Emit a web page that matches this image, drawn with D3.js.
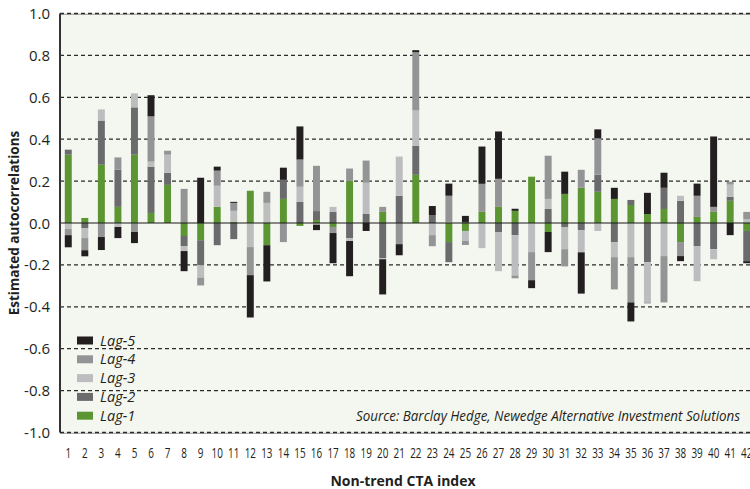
<!DOCTYPE html>
<html>
<head>
<meta charset="utf-8">
<script src="https://cdn.jsdelivr.net/npm/d3@7"></script>
<style>
  body { margin: 0; background: #fff; }
  svg { display: block; font-family: "Open Sans", "Noto Sans", sans-serif; }
</style>
</head>
<body>
<div id="chart"></div>
<script>
// categories (non-trend CTA indices)
var categories = ["1","2","3","4","5","6","7","8","9","10","11","12","13","14","15","16","17","18","19","20","21",
  "22","23","24","25","26","27","28","29","30","31","32","33","34","35","36","37","38","39","40","41","42"];

// autocorrelation per lag
var lag1 = [0.326,0.024,0.278,0.077,0.326,0.048,0.182,-0.062,-0.082,0.077,0.005,0.154,-0.106,0.115,-0.014,0.014,-0.019,0.202,0,0.053,0,
  0.23,0,-0.091,-0.038,0.053,0.077,0.058,0.221,-0.043,0.139,0.168,0.149,0.115,0.086,0.043,0.067,-0.091,0.029,0.053,0.106,-0.038];
var lag2 = [0.024,-0.024,0.211,0.178,0.226,0.221,0.058,-0.048,-0.12,-0.106,-0.077,0,0,0.091,0.101,0.043,0.053,-0.072,0.043,-0.168,0.13,
  0.139,0.038,-0.096,0.005,0,-0.043,-0.058,0,0.067,-0.019,-0.034,0.082,-0.091,0.024,-0.187,0.101,0.106,-0.11,-0.125,0.019,-0.144];
var lag3 = [-0.029,-0.048,0.053,-0.019,0.067,0.024,0.086,-0.024,-0.058,0.101,0.053,-0.115,0.096,0,0.072,-0.008,0.024,-0.014,0.149,-0.005,0.187,
  0.168,-0.058,0.005,-0.048,-0.12,-0.187,-0.192,-0.139,0.048,-0.106,-0.106,-0.038,-0.072,-0.163,-0.192,-0.158,0.024,-0.168,-0.048,0.058,0.019];
var lag4 = [-0.029,-0.058,-0.067,0.058,-0.043,0.216,0.019,0.163,-0.038,0.072,0.038,-0.134,0.053,-0.091,0.13,0.216,-0.029,0.058,0.106,0.024,-0.101,
  0.278,-0.053,0.125,-0.019,0.134,0.134,-0.014,-0.134,0.206,-0.082,0.086,0.173,-0.154,-0.216,-0.005,-0.221,-0.067,0.101,0.024,0.014,0.034];
var lag5 = [-0.058,-0.029,-0.062,-0.053,-0.053,0.101,0,-0.096,0.216,0.019,0.005,-0.202,-0.173,0.058,0.158,-0.026,-0.144,-0.168,-0.038,-0.168,-0.053,
  0.01,0.043,0.058,0.029,0.178,0.226,0.01,-0.038,-0.096,0.106,-0.197,0.043,0.053,-0.091,0.101,0.072,-0.024,0.058,0.336,-0.058,-0.01];

var seriesNames = ["Lag-1","Lag-2","Lag-3","Lag-4","Lag-5"];
var seriesColors = ["#5b9632","#6b6b6e","#bdbdc0","#949496","#231f20"];
var yTicks = [-1,-0.8,-0.6,-0.4,-0.2,0,0.2,0.4,0.6,0.8,1];

var width = 750, height = 489;
var plotLeft = 60, plotRight = 755, plotTop = 13.5, plotBottom = 432.5;

// table for d3.stack
var table = categories.map(function(c, i) {
  return { cat: c, "Lag-1": lag1[i], "Lag-2": lag2[i], "Lag-3": lag3[i], "Lag-4": lag4[i], "Lag-5": lag5[i] };
});

var svg = d3.select("#chart").append("svg")
  .attr("width", width)
  .attr("height", height);

var x = d3.scaleBand()
  .domain(categories)
  .range([plotLeft, plotRight])
  .paddingInner(0.58)
  .paddingOuter(0.29);

var y = d3.scaleLinear()
  .domain([-1, 1])
  .range([plotBottom, plotTop]);

// plot background
svg.append("rect")
  .attr("x", plotLeft).attr("y", plotTop)
  .attr("width", width - plotLeft).attr("height", plotBottom - plotTop)
  .attr("fill", "#f4f7ef");

// top / bottom frame lines under the dashes
svg.append("g").selectAll("line").data([1, -1]).enter().append("line")
  .attr("x1", plotLeft).attr("x2", width)
  .attr("y1", function(d) { return y(d) + 0.8; })
  .attr("y2", function(d) { return y(d) + 0.8; })
  .attr("stroke", "#9a9a9a")
  .attr("stroke-width", 1);

// dashed gridlines
svg.append("g")
  .selectAll("line")
  .data(yTicks.filter(function(d) { return d !== 0; }))
  .enter().append("line")
  .attr("x1", plotLeft).attr("x2", width)
  .attr("y1", function(d) { return y(d); })
  .attr("y2", function(d) { return y(d); })
  .attr("stroke", "#2a2a2a")
  .attr("stroke-width", 1.3)
  .attr("stroke-dasharray", "4,3");

// stacked bars, positives up and negatives down
var stack = d3.stack().keys(seriesNames).offset(d3.stackOffsetDiverging);
var layers = stack(table);

svg.append("g")
  .selectAll("g")
  .data(layers)
  .enter().append("g")
  .attr("fill", function(d, i) { return seriesColors[i]; })
  .selectAll("rect")
  .data(function(d) { return d; })
  .enter().append("rect")
  .attr("x", function(d) { return x(d.data.cat); })
  .attr("width", x.bandwidth())
  .attr("y", function(d) { return y(Math.max(d[0], d[1])); })
  .attr("height", function(d) { return Math.abs(y(d[0]) - y(d[1])); });

// zero line
svg.append("line")
  .attr("x1", plotLeft).attr("x2", width)
  .attr("y1", y(0)).attr("y2", y(0))
  .attr("stroke", "#1a1a1a")
  .attr("stroke-width", 1.2);

// left axis line
svg.append("line")
  .attr("x1", plotLeft).attr("x2", plotLeft)
  .attr("y1", plotTop).attr("y2", plotBottom)
  .attr("stroke", "#333")
  .attr("stroke-width", 2);

// y tick labels
svg.append("g")
  .selectAll("text")
  .data(yTicks)
  .enter().append("text")
  .attr("x", 50)
  .attr("y", function(d) { return y(d) + 5.5; })
  .attr("text-anchor", "end")
  .attr("font-size", 15)
  .attr("fill", "#231f20")
  .text(function(d) { return d.toFixed(1); });

// x tick labels (condensed look)
svg.append("g")
  .selectAll("text")
  .data(categories)
  .enter().append("text")
  .attr("transform", function(d) { return "translate(" + (x(d) + x.bandwidth() / 2) + ",457.5) scale(0.66,1)"; })
  .attr("text-anchor", "middle")
  .attr("font-size", 15)
  .attr("fill", "#231f20")
  .text(function(d) { return d; });

// axis titles
svg.append("text")
  .attr("x", 403).attr("y", 486)
  .attr("text-anchor", "middle")
  .attr("font-size", 14)
  .attr("font-weight", "bold")
  .attr("fill", "#231f20")
  .text("Non-trend CTA index");

svg.append("text")
  .attr("transform", "translate(19," + y(0) + ") rotate(-90)")
  .attr("text-anchor", "middle")
  .attr("font-size", 13.5)
  .attr("font-weight", "bold")
  .attr("fill", "#231f20")
  .text("Estimated autocorrelations");

// legend, Lag-5 on top
var legendRows = seriesNames.slice().reverse();
var legend = svg.append("g")
  .selectAll("g")
  .data(legendRows)
  .enter().append("g")
  .attr("transform", function(d, i) { return "translate(77," + (340.5 + i * 18.8) + ")"; });

legend.append("rect")
  .attr("x", 0).attr("y", -4)
  .attr("width", 16).attr("height", 8)
  .attr("fill", function(d) { return seriesColors[seriesNames.indexOf(d)]; });

legend.append("text")
  .attr("x", 23).attr("y", 5)
  .attr("font-size", 14.5)
  .attr("font-style", "italic")
  .attr("fill", "#231f20")
  .text(function(d) { return d; });

// source note
svg.append("text")
  .attr("x", 356).attr("y", 421)
  .attr("font-size", 14)
  .attr("font-style", "italic")
  .attr("fill", "#231f20")
  .attr("textLength", 384)
  .attr("lengthAdjust", "spacingAndGlyphs")
  .text("Source: Barclay Hedge, Newedge Alternative Investment Solutions");
</script>
</body>
</html>
